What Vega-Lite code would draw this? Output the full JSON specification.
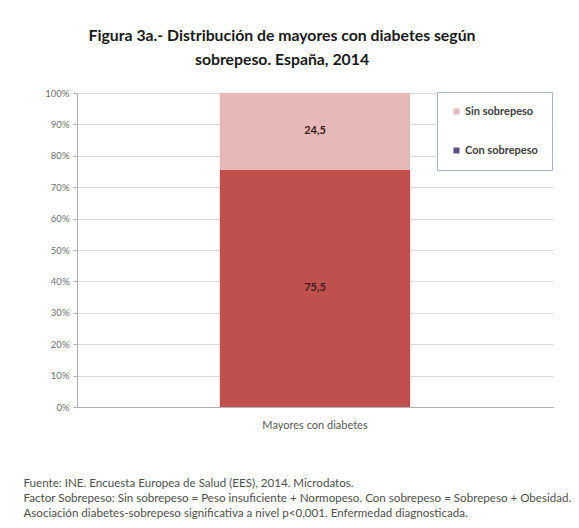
{
  "$schema": "https://vega.github.io/schema/vega-lite/v6.json",
  "autosize": "none",
  "width": 476,
  "height": 314,
  "padding": {"left": 77, "top": 93, "right": 26, "bottom": 121},
  "background": "white",
  "config": {
    "font": "Lato",
    "view": {"stroke": null},
    "axisY": {
      "labelFontSize": 9.5,
      "labelColor": "#707070",
      "labelPadding": 4,
      "tickSize": 4,
      "tickColor": "#b0b0b0",
      "domainColor": "#b0b0b0",
      "gridColor": "#dcdcdc"
    }
  },
  "title": {
    "text": ["Figura 3a.- Distribución de mayores con diabetes según", "sobrepeso. España, 2014"],
    "font": "Lato",
    "fontSize": 15.8,
    "fontWeight": "bold",
    "color": "#1a1a1a",
    "lineHeight": 24,
    "anchor": "middle",
    "frame": "group",
    "dx": -33,
    "offset": 19
  },
  "data": {
    "values": [
      {"categoria": "Mayores con diabetes", "grupo": "Con sobrepeso", "valor": 75.5, "etiqueta": "75,5"},
      {"categoria": "Mayores con diabetes", "grupo": "Sin sobrepeso", "valor": 24.5, "etiqueta": "24,5"}
    ]
  },
  "transform": [
    {"stack": "valor", "groupby": ["categoria"], "sort": [{"field": "grupo", "order": "ascending"}], "as": ["y0", "y1"]},
    {"calculate": "(datum.y0 + datum.y1) / 2", "as": "ymid"},
    {"calculate": "datum.grupo", "as": "leyenda"}
  ],
  "encoding": {
    "x": {
      "field": "categoria",
      "type": "nominal",
      "scale": {"paddingInner": 0.6, "paddingOuter": 0.3},
      "axis": {
        "labelAngle": 0,
        "labelFontSize": 11,
        "labelColor": "#595959",
        "labelPadding": 12,
        "ticks": false,
        "domain": true,
        "domainColor": "#b0b0b0",
        "title": [
          "Fuente: INE. Encuesta Europea de Salud (EES), 2014. Microdatos.",
          "Factor Sobrepeso: Sin sobrepeso = Peso insuficiente + Normopeso. Con sobrepeso = Sobrepeso + Obesidad.",
          "Asociación diabetes-sobrepeso significativa a nivel  p<0,001. Enfermedad diagnosticada."
        ],
        "titleFont": "Lato",
        "titleFontSize": 11.6,
        "titleFontWeight": "normal",
        "titleColor": "#505050",
        "titleAnchor": "start",
        "titleAlign": "left",
        "titleBaseline": "alphabetic",
        "titleLineHeight": 15,
        "titleX": -54,
        "titleY": 79
      }
    },
    "y": {
      "type": "quantitative",
      "scale": {"domain": [0, 100], "nice": false},
      "axis": {
        "values": [0, 10, 20, 30, 40, 50, 60, 70, 80, 90, 100],
        "labelExpr": "datum.value + '%'",
        "title": null
      }
    }
  },
  "layer": [
    {
      "mark": {"type": "bar"},
      "encoding": {
        "y": {
          "field": "y0",
          "type": "quantitative",
          "scale": {"domain": [0, 100], "nice": false},
          "axis": {
            "values": [0, 10, 20, 30, 40, 50, 60, 70, 80, 90, 100],
            "labelExpr": "datum.value + '%'",
            "title": null
          }
        },
        "y2": {"field": "y1"},
        "color": {
          "field": "grupo",
          "type": "nominal",
          "scale": {"domain": ["Sin sobrepeso", "Con sobrepeso"], "range": ["#e6b9b8", "#c0504d"]},
          "legend": null
        }
      }
    },
    {
      "mark": {"type": "square", "opacity": 0},
      "encoding": {
        "y": {"field": "ymid", "type": "quantitative"},
        "fill": {
          "field": "leyenda",
          "type": "nominal",
          "sort": "descending",
          "scale": {"range": ["#e6b9b8", "#5f4f86"]},
          "legend": {
            "title": null,
            "orient": "none",
            "legendX": 360,
            "legendY": -1,
            "direction": "vertical",
            "symbolType": "square",
            "symbolSize": 36,
            "symbolStrokeWidth": 0,
            "symbolOpacity": 1,
            "labelFontSize": 11,
            "labelFontWeight": "bold",
            "labelColor": "#404040",
            "labelOffset": 3,
            "rowPadding": 27,
            "padding": 14,
            "strokeColor": "#a6b5c8",
            "fillColor": "white"
          }
        }
      }
    },
    {
      "mark": {"type": "text", "fontSize": 11, "fontWeight": "bold", "color": "#3a2020"},
      "encoding": {
        "y": {
          "field": "ymid",
          "type": "quantitative",
          "axis": {
            "values": [0, 10, 20, 30, 40, 50, 60, 70, 80, 90, 100],
            "labelExpr": "datum.value + '%'",
            "title": null
          }
        },
        "text": {"field": "etiqueta"}
      }
    }
  ]
}
